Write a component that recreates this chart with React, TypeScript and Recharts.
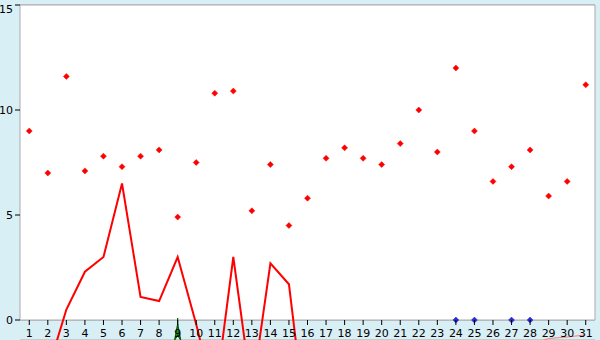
import {
  CartesianGrid,
  ComposedChart,
  Line,
  ReferenceArea,
  Scatter,
  XAxis,
  YAxis,
} from "recharts";

const days = [
  "1", "2", "3", "4", "5", "6", "7", "8", "9", "10", "11", "12", "13", "14", "15", "16",
  "17", "18", "19", "20", "21", "22", "23", "24", "25", "26", "27", "28", "29", "30", "31",
];

const readings = [
  9.0, 7.0, 11.6, 7.1, 7.8, 7.3, 7.8, 8.1, 4.9, 7.5, 10.8, 10.9, 5.2, 7.4, 4.5, 5.8,
  7.7, 8.2, 7.7, 7.4, 8.4, 10.0, 8.0, 12.0, 9.0, 6.6, 7.3, 8.1, 5.9, 6.6, 11.2,
];

const difference = [
  null, -2.4, 0.5, 2.3, 3.0, 6.5, 1.1, 0.9, 3.0, -0.2, -3.8, 3.0, -3.5, 2.7, 1.7, -5.6,
  null, null, null, null, null, null, null, null, null, null, null, null, null, null, null,
];

const residual = [
  null, null, null, null, null, null, null, null, null, null, null, null, null, null, null, null,
  null, null, null, null, null, null, null, null, null, null, null, -1.2, -0.88, -0.81, -0.71,
];

const blueFlags = [
  null, null, null, null, null, null, null, null, null, null, null, null, null, null, null, null,
  null, null, null, null, null, null, null, 0, 0, null, 0, 0, null, null, null,
];

const greenFlags = [
  null, null, null, null, null, null, null, null, 0, null, null, null, null, null, null, null,
  null, null, null, null, null, null, null, null, null, null, null, null, null, null, null,
];

const yTicks = [0, 5, 10, 15];

const data = days.map((day, i) => ({
  day,
  reading: readings[i],
  difference: difference[i],
  residual: residual[i],
  blue: blueFlags[i],
  green: greenFlags[i],
}));

// the plot runs down to the bottom edge so the line can dip below the axis
const WIDTH = 600;
const HEIGHT = 340;
const TOP = 5;
const AXIS_GAP = 20;
const Y_MAX = 15;
const PX_PER_UNIT = (HEIGHT - TOP - AXIS_GAP) / Y_MAX;
const Y_MIN = -AXIS_GAP / PX_PER_UNIT;

function DayTick({ x, y, payload }: any) {
  const base = y - AXIS_GAP;
  return (
    <g>
      <line x1={x} x2={x} y1={base} y2={base + 5} stroke="#000" />
      <text x={x} y={base + 17} textAnchor="middle" fontSize={11} fill="#000">
        {payload.value}
      </text>
    </g>
  );
}

function ValueTick({ x, y, payload }: any) {
  return (
    <text
      x={x}
      y={Math.max(y, TOP + 1.5)}
      dy="0.355em"
      textAnchor="end"
      fontSize={11}
      fill="#000"
    >
      {payload.value}
    </text>
  );
}

function diamond(color: string, key: string) {
  return (props: any) => {
    const { cx, cy, payload } = props;
    if (payload == null || payload[key] == null || cx == null || cy == null) return <g />;
    return (
      <path
        d={`M${cx},${cy - 3}L${cx + 3},${cy}L${cx},${cy + 3}L${cx - 3},${cy}Z`}
        fill={color}
        stroke={color}
        strokeWidth={0.5}
      />
    );
  };
}

function GreenMark(props: any) {
  const { cx, cy, payload } = props;
  if (payload == null || payload.green == null || cx == null || cy == null) return <g />;
  return (
    <g stroke="#005a00" strokeWidth={1.2}>
      <line x1={cx} x2={cx} y1={cy - 2} y2={cy + 6} />
      <path
        d={`M${cx},${cy + 4}L${cx + 3},${cy + 20}L${cx},${cy + 15}L${cx - 3},${cy + 20}Z`}
        fill="#2f8f2f"
      />
    </g>
  );
}

export default function App() {
  return (
    <div style={{ position: "absolute", left: 0, top: 0 }}>
      <ComposedChart
        width={WIDTH}
        height={HEIGHT}
        data={data}
        margin={{ top: TOP, right: 5, bottom: -1, left: 0 }}
        style={{ background: "#d9eff6", fontFamily: "DejaVu Sans" }}
      >
        <ReferenceArea
          y1={0}
          y2={Y_MAX}
          fill="#ffffff"
          fillOpacity={1}
          stroke="#aaaaaa"
        />
        <CartesianGrid vertical={false} stroke="#aaaaaa" />
        <XAxis
          dataKey="day"
          scale="band"
          height={1}
          axisLine={false}
          tickLine={false}
          tickSize={0}
          tickMargin={0}
          interval={0}
          tick={<DayTick />}
        />
        <YAxis
          width={20}
          domain={[Y_MIN, Y_MAX]}
          allowDataOverflow
          ticks={yTicks}
          axisLine={false}
          tickSize={5}
          tickLine={{ stroke: "#000" }}
          tick={<ValueTick />}
        />
        <Line
          dataKey="difference"
          stroke="#ff0000"
          strokeWidth={2}
          dot={false}
          isAnimationActive={false}
        />
        <Line
          dataKey="residual"
          stroke="#f08080"
          strokeWidth={1}
          dot={false}
          isAnimationActive={false}
        />
        <Scatter dataKey="reading" shape={diamond("#ff0000", "reading")} isAnimationActive={false} />
        <Scatter dataKey="blue" shape={diamond("#2a2ad0", "blue")} isAnimationActive={false} />
        <Scatter dataKey="green" shape={<GreenMark />} isAnimationActive={false} />
      </ComposedChart>
    </div>
  );
}
